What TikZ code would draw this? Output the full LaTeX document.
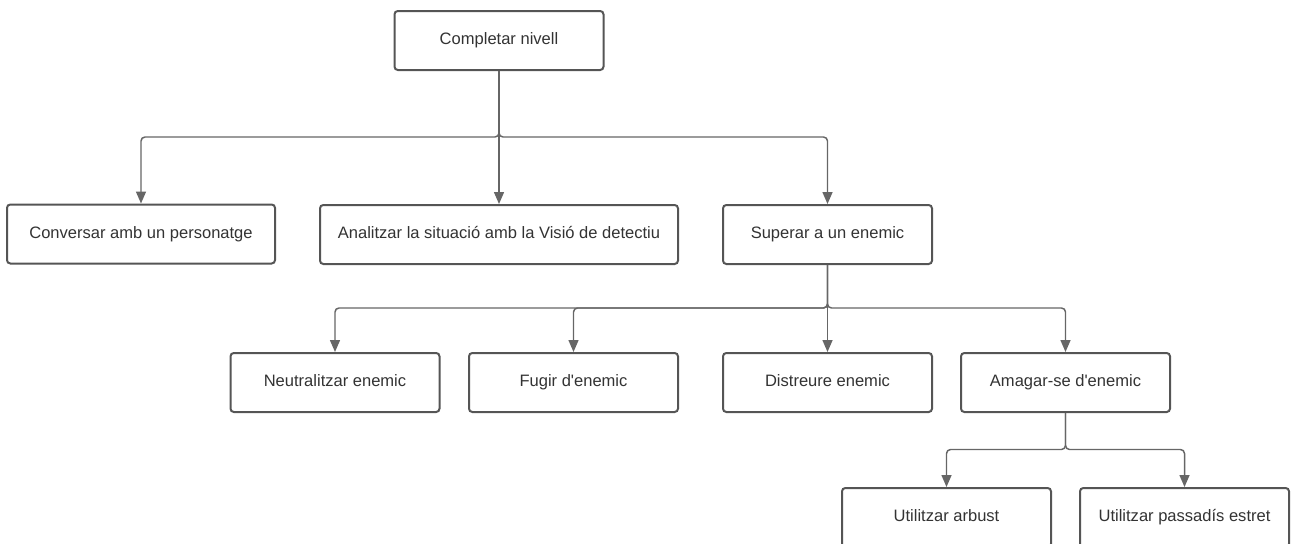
\documentclass[tikz,border=0pt]{standalone}
\usepackage{fontspec}
\setmainfont{Liberation Sans}
\usetikzlibrary{arrows.meta}
\definecolor{boxline}{RGB}{85,85,85}
\definecolor{linkline}{RGB}{102,102,102}
\definecolor{labeltext}{RGB}{51,51,51}
\begin{document}
\begin{tikzpicture}[x=0.75pt,y=0.75pt,yscale=-1,xscale=1,
  box/.style={draw=boxline, line width=1.5pt, rounded corners=2.5pt, fill=white,
    minimum height=44.25pt, minimum width=156.75pt, inner sep=0pt,
    text height=9pt, text depth=3pt,
    text=labeltext, font=\fontsize{12.4}{14}\selectfont},
  link/.style={draw=linkline, line width=1.1pt, rounded corners=3pt,
    -{Triangle[length=9pt,width=7.5pt]}}]
\clip (0,0) rectangle (1295,543);
% nodes
\node [box] (nivell) at (499,40.5) {Completar nivell};
\node [box, minimum width=201pt] (conversar) at (141,234) {Conversar amb un personatge};
\node [box, minimum width=268.5pt] (analitzar) at (499,234.5) {Analitzar la situació amb la Visió de detectiu};
\node [box] (superar) at (827.5,234.5) {Superar a un enemic};
\node [box] (neutralitzar) at (335,382.5) {Neutralitzar enemic};
\node [box] (fugir) at (573.5,382.5) {Fugir d\textquotesingle enemic};
\node [box] (distreure) at (827.5,382.5) {Distreure enemic};
\node [box] (amagar) at (1065.5,382.5) {Amagar-se d\textquotesingle enemic};
\node [box] (arbust) at (946.5,517.5) {Utilitzar arbust};
\node [box] (passadis) at (1184.5,517.5) {Utilitzar passadís estret};
% branch points
\coordinate (b1) at (499,137);
\coordinate (b2) at (827.5,308);
\coordinate (b3) at (1065.5,449.5);
% connectors
\draw [link] (nivell.south) -- (b1) -| (conversar.north);
\draw [link] (nivell.south) -- (analitzar.north);
\draw [link] (nivell.south) -- (b1) -| (superar.north);
\draw [link] (superar.south) -- (b2) -| (neutralitzar.north);
\draw [link] (superar.south) -- (b2) -| (fugir.north);
\draw [link] (superar.south) -- (distreure.north);
\draw [link] (superar.south) -- (b2) -| (amagar.north);
\draw [link] (amagar.south) -- (b3) -| (arbust.north);
\draw [link] (amagar.south) -- (b3) -| (passadis.north);
\end{tikzpicture}
\end{document}
